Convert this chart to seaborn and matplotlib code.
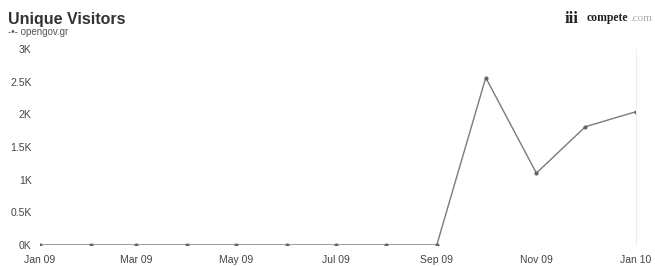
import pandas as pd
import matplotlib.pyplot as plt
import matplotlib.dates as mdates
import seaborn as sns

# Monthly unique visitors for opengov.gr
months = ["2009-01", "2009-02", "2009-03", "2009-04", "2009-05", "2009-06", "2009-07",
          "2009-08", "2009-09", "2009-10", "2009-11", "2009-12", "2010-01"]
visitors = [0, 0, 0, 0, 0, 0, 0, 0, 0, 2560, 1100, 1810, 2040]
tick_months = ["2009-01", "2009-03", "2009-05", "2009-07", "2009-09", "2009-11", "2010-01"]
y_ticks = [0, 500, 1000, 1500, 2000, 2500, 3000]
y_labels = ["0K", "0.5K", "1K", "1.5K", "2K", "2.5K", "3K"]

df = pd.DataFrame({"month": pd.to_datetime(months), "visitors": visitors})

sns.set_style("white")
plt.rcParams['font.family'] = ['Liberation Sans', 'DejaVu Sans']

fig = plt.figure(figsize=(6.55, 2.66), dpi=100)
ax = fig.add_axes([0.061, 0.079, 0.91, 0.737])

sns.lineplot(data=df, x="month", y="visitors", ax=ax, color="#7a7a7a", linewidth=1.0,
             marker="o", markersize=3, markeredgewidth=0, markerfacecolor="#666666")

ax.set_xlim(df["month"].min(), df["month"].max())
ax.set_ylim(0, 3000)
ax.set_xticks(pd.to_datetime(tick_months))
ax.xaxis.set_major_formatter(mdates.DateFormatter("%b %y"))
ax.set_yticks(y_ticks)
ax.set_yticklabels(y_labels)
ax.tick_params(axis="both", length=0, labelsize=7.5, labelcolor="#444444")
ax.tick_params(axis="x", pad=7)
ax.tick_params(axis="y", pad=6)
ax.set_xlabel("")
ax.set_ylabel("")
for side in ["top", "left", "bottom"]:
    ax.spines[side].set_visible(False)
ax.spines["right"].set_color("#eeeeee")
ax.spines["right"].set_linewidth(0.8)

# title, legend and logo text
fig.text(0.012, 0.91, "Unique Visitors", fontsize=11.5, fontweight="bold", color="#333333")
fig.text(0.012, 0.868, "-\u2022- opengov.gr", fontsize=7, color="#555555")
fig.text(0.862, 0.915, "iii", fontsize=12, fontweight="bold", color="#222222",
         family=["Liberation Serif", "DejaVu Serif"])
fig.text(0.895, 0.922, "compete", fontsize=8.5, fontweight="bold", color="#222222",
         family=["Liberation Serif", "DejaVu Serif"])
fig.text(0.962, 0.922, ".com", fontsize=8, color="#aaaaaa",
         family=["Liberation Serif", "DejaVu Serif"])

fig.savefig("out.png", dpi=100)
